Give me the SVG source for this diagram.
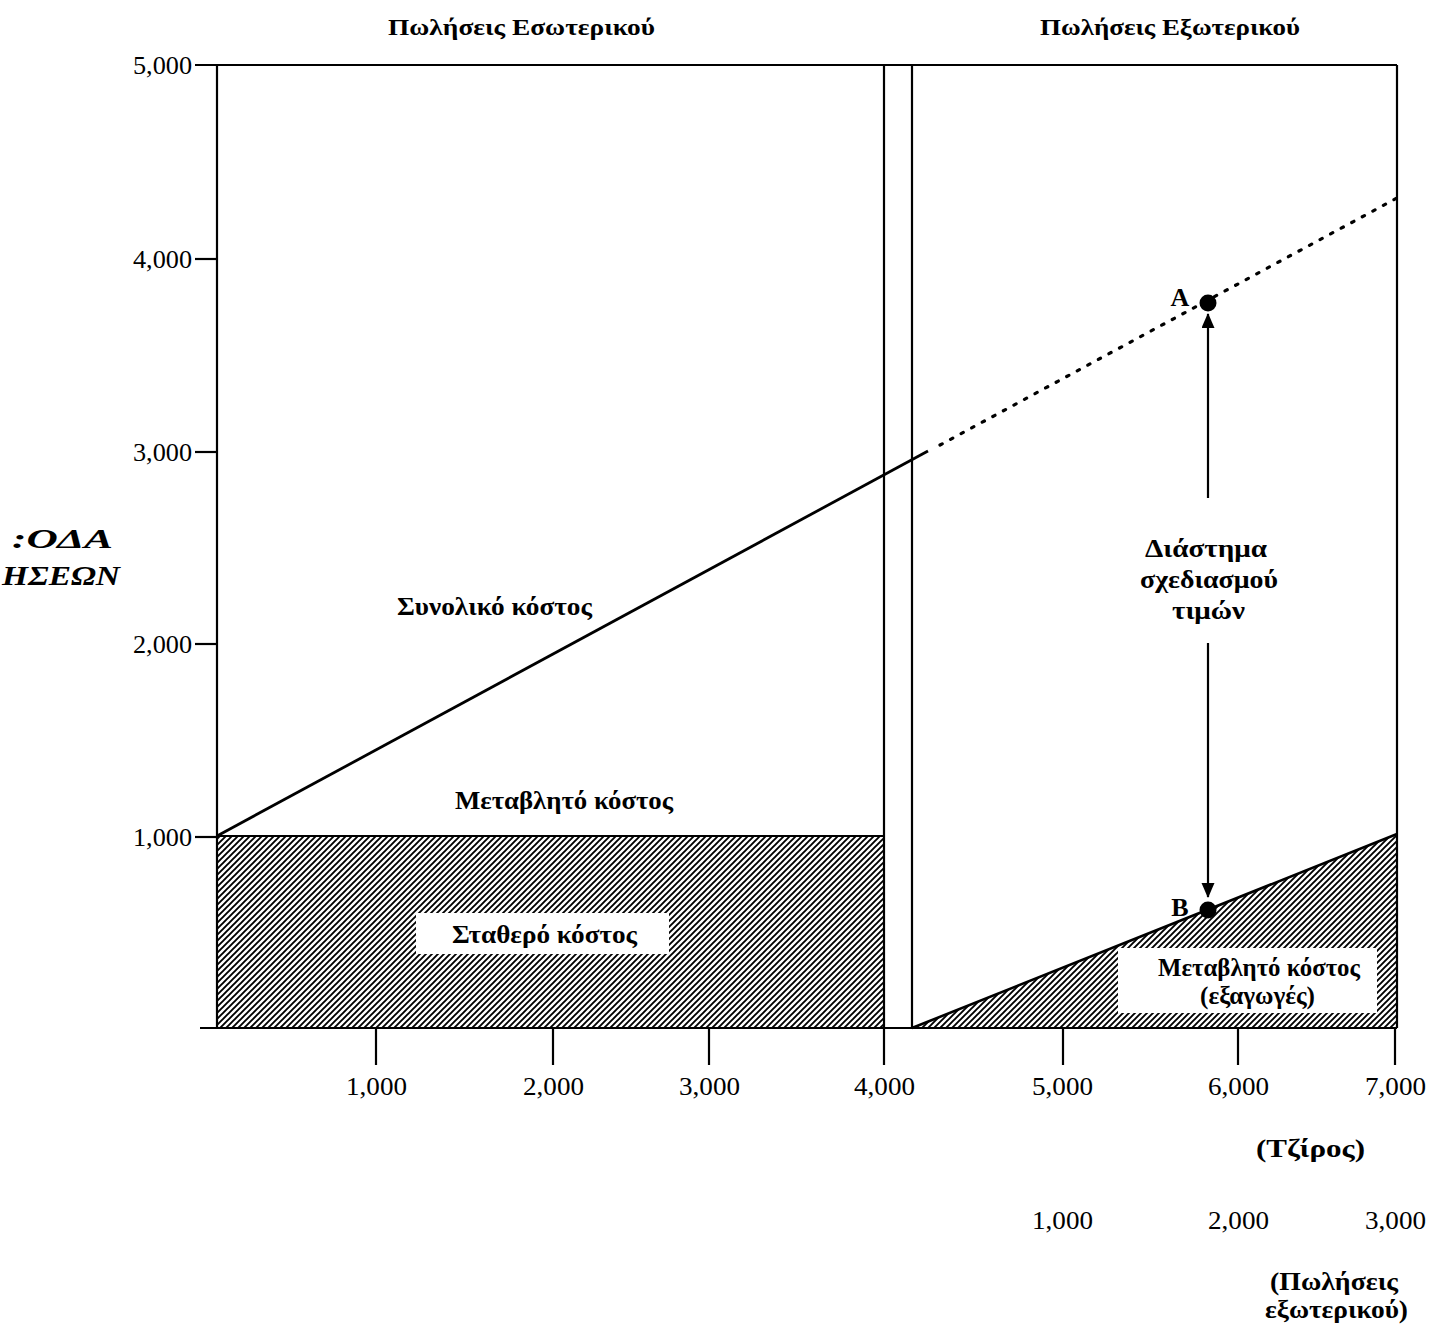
<svg xmlns="http://www.w3.org/2000/svg" width="1430" height="1327" viewBox="0 0 1430 1327">
<style>
text{font-family:"Liberation Serif","Times New Roman",serif;fill:#000}
.num{font-size:25px}
.ttl{font-size:24px;font-weight:bold}
.lbl{font-size:26px;font-weight:bold}
.ax{stroke:#000;stroke-width:2.2;fill:none}
.thin{stroke:#000;stroke-width:2;fill:none}
</style>
<defs>
<pattern id="hatch" patternUnits="userSpaceOnUse" width="6" height="6">
<rect width="6" height="6" fill="#fff"/>
<path d="M-1,1 L1,-1 M0,6 L6,0 M5,7 L7,5" stroke="#000" stroke-width="1.9"/>
</pattern>
<marker id="arr" markerWidth="15" markerHeight="14" refX="14" refY="6.5" orient="auto" markerUnits="userSpaceOnUse">
<path d="M0,0 L15,6.5 L0,13 Z" fill="#000"/>
</marker>
</defs>
<rect width="1430" height="1327" fill="#fff"/>

<g id="titles">
<text class="ttl" x="388" y="35" textLength="267" lengthAdjust="spacingAndGlyphs">Πωλήσεις Εσωτερικού</text>
<text class="ttl" x="1040" y="35" textLength="260" lengthAdjust="spacingAndGlyphs">Πωλήσεις Εξωτερικού</text>
</g>

<g id="fixed-cost">
<rect x="217" y="836" width="667" height="192" fill="url(#hatch)"/>
<line class="thin" x1="217" y1="836" x2="884" y2="836"/>
<rect x="416" y="913" width="253" height="41" fill="#fff"/>
<text class="lbl" x="452" y="943" textLength="185" lengthAdjust="spacingAndGlyphs">Σταθερό κόστος</text>
</g>

<g id="export-variable-cost">
<polygon points="912,1028 1397,834 1397,1028" fill="url(#hatch)"/>
<line x1="912" y1="1028" x2="1397" y2="834" stroke="#000" stroke-width="2.6"/>
<rect x="1118" y="948" width="259" height="65" fill="#fff"/>
<text class="lbl" x="1158" y="976" textLength="202" lengthAdjust="spacingAndGlyphs">Μεταβλητό κόστος</text>
<text class="lbl" x="1200" y="1004" textLength="115" lengthAdjust="spacingAndGlyphs">(εξαγωγές)</text>
</g>

<g id="axes">
<line class="ax" x1="217" y1="65" x2="217" y2="1028"/>
<line class="ax" x1="195" y1="65" x2="1397" y2="65"/>
<line class="ax" x1="1397" y1="65" x2="1397" y2="1028"/>
<line class="ax" x1="884" y1="65" x2="884" y2="1065"/>
<line class="ax" x1="912" y1="65" x2="912" y2="1028"/>
<line class="ax" x1="200" y1="1028" x2="1397" y2="1028"/>
<line class="ax" x1="195" y1="259" x2="217" y2="259"/>
<line class="ax" x1="195" y1="452" x2="217" y2="452"/>
<line class="ax" x1="195" y1="644" x2="217" y2="644"/>
<line class="ax" x1="195" y1="837" x2="217" y2="837"/>
<line class="ax" x1="376" y1="1028" x2="376" y2="1065"/>
<line class="ax" x1="553" y1="1028" x2="553" y2="1065"/>
<line class="ax" x1="709" y1="1028" x2="709" y2="1065"/>
<line class="ax" x1="1063" y1="1028" x2="1063" y2="1065"/>
<line class="ax" x1="1238" y1="1028" x2="1238" y2="1065"/>
<line class="ax" x1="1395" y1="1028" x2="1395" y2="1065"/>
</g>

<g id="y-labels">
<text class="num" x="133" y="74" textLength="59" lengthAdjust="spacingAndGlyphs">5,000</text>
<text class="num" x="133" y="268" textLength="59" lengthAdjust="spacingAndGlyphs">4,000</text>
<text class="num" x="133" y="461" textLength="59" lengthAdjust="spacingAndGlyphs">3,000</text>
<text class="num" x="133" y="653" textLength="59" lengthAdjust="spacingAndGlyphs">2,000</text>
<text class="num" x="133" y="846" textLength="59" lengthAdjust="spacingAndGlyphs">1,000</text>
<text x="12" y="548" textLength="101" lengthAdjust="spacingAndGlyphs" style="font-size:27px;font-weight:bold;font-style:italic">:ΟΔΑ</text>
<text x="2" y="585" textLength="118" lengthAdjust="spacingAndGlyphs" style="font-size:27px;font-weight:bold;font-style:italic">ΗΣΕΩΝ</text>
</g>

<g id="x-labels">
<text class="num" x="346" y="1095" textLength="61" lengthAdjust="spacingAndGlyphs">1,000</text>
<text class="num" x="523" y="1095" textLength="61" lengthAdjust="spacingAndGlyphs">2,000</text>
<text class="num" x="679" y="1095" textLength="61" lengthAdjust="spacingAndGlyphs">3,000</text>
<text class="num" x="854" y="1095" textLength="61" lengthAdjust="spacingAndGlyphs">4,000</text>
<text class="num" x="1032" y="1095" textLength="61" lengthAdjust="spacingAndGlyphs">5,000</text>
<text class="num" x="1208" y="1095" textLength="61" lengthAdjust="spacingAndGlyphs">6,000</text>
<text class="num" x="1365" y="1095" textLength="61" lengthAdjust="spacingAndGlyphs">7,000</text>
<text class="lbl" x="1256" y="1157" textLength="109" lengthAdjust="spacingAndGlyphs">(Τζίρος)</text>
<text class="num" x="1032" y="1229" textLength="61" lengthAdjust="spacingAndGlyphs">1,000</text>
<text class="num" x="1208" y="1229" textLength="61" lengthAdjust="spacingAndGlyphs">2,000</text>
<text class="num" x="1365" y="1229" textLength="61" lengthAdjust="spacingAndGlyphs">3,000</text>
<text class="lbl" x="1270" y="1290" textLength="128" lengthAdjust="spacingAndGlyphs">(Πωλήσεις</text>
<text class="lbl" x="1265" y="1318" textLength="143" lengthAdjust="spacingAndGlyphs">εξωτερικού)</text>
</g>

<g id="total-cost">
<line x1="217" y1="836" x2="928" y2="451" stroke="#000" stroke-width="2.8"/>
<line x1="940" y1="445" x2="1397" y2="198" stroke="#000" stroke-width="3.2" stroke-linecap="round" stroke-dasharray="2.5 9.5"/>
<text class="lbl" x="397" y="615" textLength="195" lengthAdjust="spacingAndGlyphs">Συνολικό κόστος</text>
<text class="lbl" x="455" y="809" textLength="218" lengthAdjust="spacingAndGlyphs">Μεταβλητό κόστος</text>
</g>

<g id="point-A">
<circle cx="1208" cy="303" r="8.5" fill="#000"/>
<text class="lbl" x="1180" y="306" text-anchor="middle">A</text>
</g>
<g id="point-B">
<circle cx="1208" cy="910" r="8.5" fill="#000"/>
<text class="lbl" x="1180" y="916" text-anchor="middle">B</text>
</g>

<g id="connectors">
<line x1="1208" y1="498" x2="1208" y2="314" stroke="#000" stroke-width="2.2" marker-end="url(#arr)"/>
<line x1="1208" y1="643" x2="1208" y2="897" stroke="#000" stroke-width="2.2" marker-end="url(#arr)"/>
</g>

<g id="price-range">
<text class="lbl" x="1145" y="557" textLength="122" lengthAdjust="spacingAndGlyphs">Διάστημα</text>
<text class="lbl" x="1140" y="588" textLength="138" lengthAdjust="spacingAndGlyphs">σχεδιασμού</text>
<text class="lbl" x="1172" y="619" textLength="73" lengthAdjust="spacingAndGlyphs">τιμών</text>
</g>
</svg>
